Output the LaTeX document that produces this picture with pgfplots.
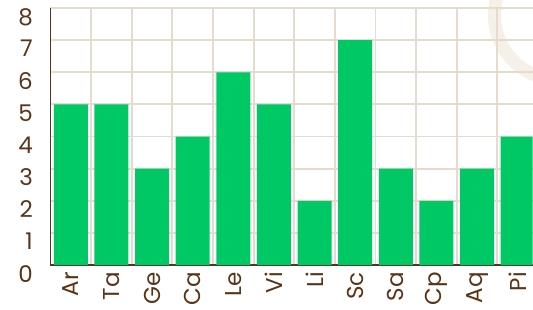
\documentclass[border=0pt]{standalone}
\usepackage{pgfplots}
\pgfplotsset{compat=1.18}
\usepackage{fontspec}
\setmainfont{Poppins}
\definecolor{txt}{HTML}{5A3418}
\definecolor{gridc}{HTML}{E6DBCF}
\definecolor{barg}{HTML}{00C864}
\definecolor{wm}{HTML}{F6F1E8}
\begin{document}
\begin{tikzpicture}[x=1pt,y=1pt]
\useasboundingbox (-50.5,-44) rectangle (482.5,265);
\clip (-50.5,-44) rectangle (482.5,265);
\draw[wm, line width=13pt] (509,250) circle (65);
\begin{axis}[
  at={(0,0)}, anchor=south west,
  scale only axis, width=482pt, height=257pt,
  xmin=-0.5, xmax=11.364, ymin=0, ymax=8,
  ybar, bar width=34pt,
  axis x line=bottom, axis y line=left,
  axis line style={txt, line width=1.8pt, -},
  xtick={0,...,11},
  xticklabels={Ar,Ta,Ge,Ca,Le,Vi,Li,Sc,Sa,Cp,Aq,Pi},
  minor xtick={0.5,1.5,...,10.5},
  ytick={0,...,8},
  major tick length=0pt, minor tick length=0pt,
  ymajorgrids=true, xminorgrids=true, xmajorgrids=false,
  grid style={gridc, line width=1.9pt},
  minor grid style={gridc, line width=1.9pt},
  /pgf/number format/assume math mode=true,
  yticklabel style={font=\fontsize{23}{23}\selectfont, text=txt, anchor=north east, inner sep=0pt, xshift=-17.5pt},
  xticklabel style={font=\fontsize{23}{23}\selectfont, text=txt, rotate=90, anchor=east, inner sep=0pt},
  xticklabel shift=7pt,
]
\addplot[fill=barg, draw=none] coordinates {(0,5)(1,5)(2,3)(3,4)(4,6)(5,5)(6,2)(7,7)(8,3)(9,2)(10,3)(11,4)};
\end{axis}
\end{tikzpicture}
\end{document}
